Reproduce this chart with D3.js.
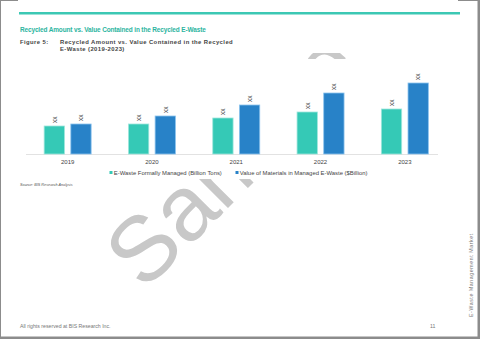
<!DOCTYPE html>
<html><head><meta charset="utf-8">
<script src="https://cdn.jsdelivr.net/npm/d3@7"></script>
<style>body{margin:0;background:#fff}svg{display:block}</style>
</head><body>
<script>
const years = ["2019","2020","2021","2022","2023"];
const seriesNames = ["E-Waste Formally Managed (Billion Tons)", "Value of Materials in Managed E-Waste ($Billion)"];
const managedTons = [28, 30, 36, 42, 45];
const materialsValue = [30, 38, 49, 61, 71];
const valueLabels = ["xx","xx","xx","xx","xx"];
const colors = ["#35c9b6", "#2882c8"];
const strokeColors = ["#9fe6dc", "#8cc4ee"];

const W = 480, H = 339;
const svg = d3.select("body").append("svg").attr("width", W).attr("height", H);
const F = "Liberation Sans, Arial, sans-serif";

// frame
svg.append("rect").attr("width", W).attr("height", H).attr("fill", "#8c8c8c");
svg.append("rect").attr("x", 1).attr("y", 1).attr("width", 476.5).attr("height", 335.5).attr("fill", "#fff");

// watermark
svg.append("text").attr("transform", "translate(144,292) rotate(-45)")
  .attr("font-family", F).attr("font-size", 92).attr("fill", "#c8c8c8").text("Sample");

// chart white background covering watermark
svg.append("rect").attr("x", 18).attr("y", 59).attr("width", 430).attr("height", 120).attr("fill", "#fff");
svg.append("rect").attr("x", 18).attr("y", 0).attr("width", 440).attr("height", 53).attr("fill", "#fff");

// top teal line
svg.append("rect").attr("x", 19).attr("y", 12).attr("width", 441).attr("height", 2.5).attr("fill", "#3cc8b4");

svg.append("text").attr("x", 20).attr("y", 32.3).attr("font-family", F).attr("font-size", 6.45)
  .attr("fill", "#2bb4a0").attr("font-weight", "bold").attr("letter-spacing", -0.12)
  .text("Recycled Amount vs. Value Contained in the Recycled E-Waste");
const capStyle = s => s.attr("font-family", F).attr("font-size", 5.9).attr("fill", "#444")
  .attr("font-weight", "bold").attr("letter-spacing", 0.42);
svg.append("text").attr("x", 20).attr("y", 43.8).call(capStyle).text("Figure 5:");
svg.append("text").attr("x", 60).attr("y", 43.8).call(capStyle)
  .text("Recycled Amount vs. Value Contained in the Recycled");
svg.append("text").attr("x", 60).attr("y", 50.5).call(capStyle).text("E-Waste (2019-2023)");

// scales
const x0 = d3.scaleBand().domain(years).range([25.5, 447]).paddingInner(0).paddingOuter(0);
const x1 = d3.scaleBand().domain([0,1]).range([-24, 24]).paddingInner(0.2);
const y = d3.scaleLinear().domain([0, 100]).range([154, 54]);

const data = years.map((yr, i) => ({yr, vals: [managedTons[i], materialsValue[i]]}));

svg.append("line").attr("x1", 26).attr("x2", 438).attr("y1", 154.5).attr("y2", 154.5)
  .attr("stroke", "#e2e2e2").attr("stroke-width", 1);

const g = svg.selectAll("g.grp").data(data).join("g")
  .attr("transform", d => `translate(${x0(d.yr) + x0.bandwidth()/2},0)`);

g.selectAll("rect").data(d => d.vals.map((v, k) => ({v, k}))).join("rect")
  .attr("x", d => x1(d.k) + 0.5)
  .attr("y", d => y(d.v))
  .attr("width", x1.bandwidth() - 1)
  .attr("height", d => y(0) - y(d.v))
  .attr("fill", d => colors[d.k])
  .attr("stroke", d => strokeColors[d.k]).attr("stroke-width", 0.8);

g.selectAll("text.lbl").data((d, i) => d.vals.map((v, k) => ({v, k, t: valueLabels[i]}))).join("text")
  .attr("class", "lbl")
  .attr("transform", d => `translate(${x1(d.k) + x1.bandwidth()/2 + 2.3},${y(d.v) - 3}) rotate(-90)`)
  .attr("font-family", F).attr("font-size", 6.5).attr("fill", "#555").text(d => d.t);

// x-axis labels
svg.append("g").selectAll("text").data(years).join("text")
  .attr("x", d => x0(d) + x0.bandwidth()/2).attr("y", 163.5).attr("text-anchor", "middle")
  .attr("font-family", F).attr("font-size", 6.0).attr("fill", "#444").text(d => d);

// legend
const legX = [109.5, 235.5];
seriesNames.forEach((n, k) => {
  svg.append("rect").attr("x", legX[k]).attr("y", 171).attr("width", 3).attr("height", 3).attr("fill", colors[k]);
  svg.append("text").attr("x", legX[k] + 4.3).attr("y", 174.5).attr("font-family", F).attr("font-size", 5.9)
    .attr("fill", "#444").text(n);
});

svg.append("text").attr("x", 20).attr("y", 185.5).attr("font-family", F).attr("font-size", 3.8)
  .attr("font-style", "italic").attr("fill", "#555").text("Source: BIS Research Analysis");

// footer
svg.append("text").attr("x", 20).attr("y", 328).attr("font-family", F).attr("font-size", 5.2)
  .attr("fill", "#777").text("All rights reserved at BIS Research Inc.");
svg.append("text").attr("x", 430).attr("y", 328).attr("font-family", F).attr("font-size", 5.2)
  .attr("fill", "#777").text("11");
svg.append("text").attr("transform", "translate(473,317) rotate(-90)").attr("font-family", F)
  .attr("font-size", 5.2).attr("fill", "#777").attr("letter-spacing", 0.6).text("E-Waste Management Market");
</script>
</body></html>
